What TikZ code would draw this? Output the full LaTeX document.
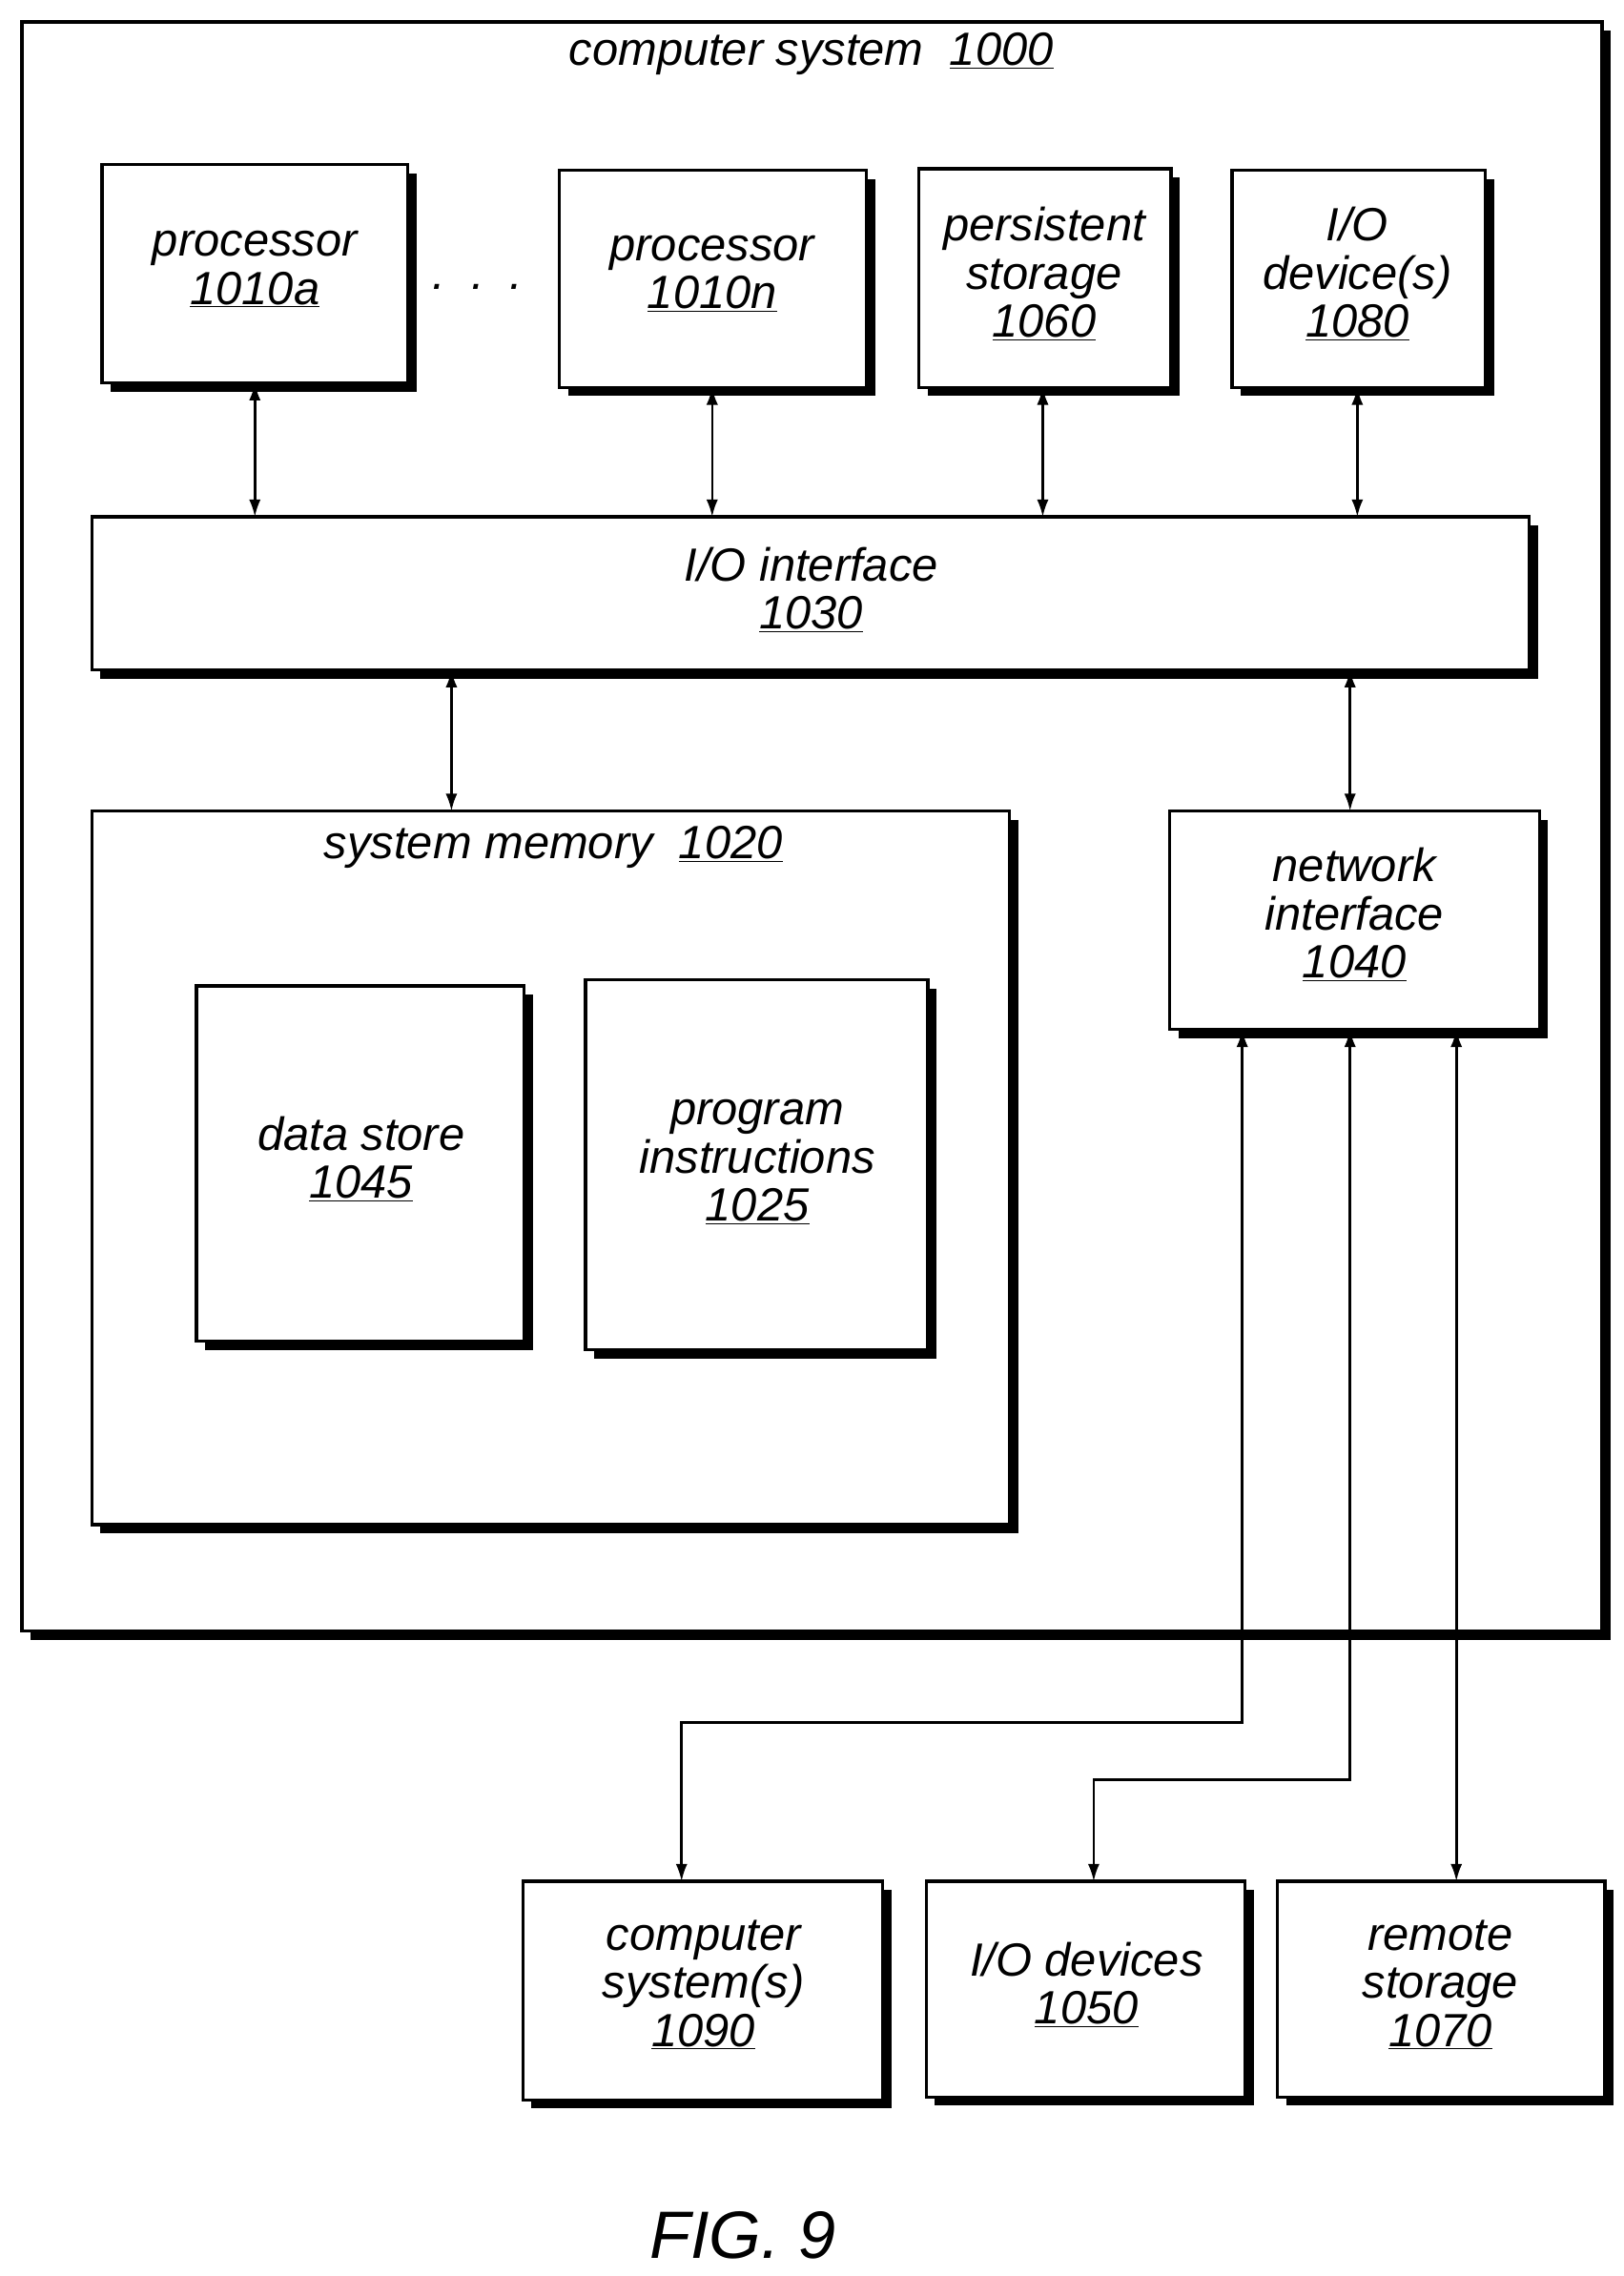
\documentclass[tikz,border=0pt]{standalone}
\usepackage{fontspec}
\setmainfont{Liberation Sans}
\usetikzlibrary{arrows.meta}
\begin{document}
\begin{tikzpicture}[x=1pt,y=-1pt,
  bx/.style={draw,line width=2.2pt,fill=white},
  sh/.style={fill=black},
  lbl/.style={align=center,font=\fontsize{32}{33}\selectfont\itshape},
  ar/.style={line width=1.7pt,{Latex[length=12pt,width=8pt]}-{Latex[length=12pt,width=8pt]}}]
\useasboundingbox (0,0) rectangle (1115,1563);
\newcommand{\bbox}[5]{%
  \fill[sh] (#2+6,#3+6) rectangle (#4+6,#5+6);
  \draw[bx] (#2,#3) rectangle (#4,#5);
  \coordinate (#1-nw) at (#2,#3);\coordinate (#1-se) at (#4,#5);}
\bbox{outer}{15}{15}{1100}{1120}
\node[lbl] (t1000) at (557,37) {computer system\ \ \underline{1000}};
\bbox{pa}{70}{113}{280}{263}
\node[lbl] (pat) at (175,185) {processor\\\underline{1010a}};
\node[lbl] (dots) at (328,197) {.\ \ .\ \ .};
\bbox{pn}{384}{117}{595}{266}
\node[lbl] (pnt) at (489,188) {processor\\\underline{1010n}};
\bbox{ps}{631}{116}{804}{266}
\node[lbl] (pst) at (717,188) {persistent\\storage\\\underline{1060}};
\bbox{io}{846}{117}{1020}{266}
\node[lbl] (iot) at (932,188) {I/O\\device(s)\\\underline{1080}};
\bbox{ioi}{63}{355}{1050}{460}
\node[lbl] (ioit) at (557,405) {I/O interface\\\underline{1030}};
\bbox{sm}{63}{557}{693}{1047}
\node[lbl] (smt) at (380,582) {system memory\ \ \underline{1020}};
\bbox{ds}{135}{677}{360}{921}
\node[lbl] (dst) at (248,796) {data store\\\underline{1045}};
\bbox{pi}{402}{673}{637}{927}
\node[lbl] (pit) at (520,798) {program\\instructions\\\underline{1025}};
\bbox{ni}{803}{557}{1057}{707}
\node[lbl] (nit) at (930,628) {network\\interface\\\underline{1040}};
\bbox{cs}{359}{1292}{606}{1442}
\node[lbl] (cst) at (483,1363) {computer\\system(s)\\\underline{1090}};
\bbox{iod}{636}{1292}{855}{1440}
\node[lbl] (iodt) at (746,1363) {I/O devices\\\underline{1050}};
\bbox{rs}{877}{1292}{1102}{1440}
\node[lbl] (rst) at (989,1363) {remote\\storage\\\underline{1070}};
\node[font=\fontsize{46}{50}\selectfont\itshape] (fig) at (510,1535) {FIG. 9};
\draw[ar] (175,263) -- (175,355);
\draw[ar] (489,266) -- (489,355);
\draw[ar] (716,266) -- (716,355);
\draw[ar] (932,266) -- (932,355);
\draw[ar] (310,460) -- (310,557);
\draw[ar] (927,460) -- (927,557);
\draw[ar] (853,707) -- (853,1183) -- (468,1183) -- (468,1292);
\draw[ar] (927,707) -- (927,1222) -- (751,1222) -- (751,1292);
\draw[ar] (1000,707) -- (1000,1292);
\end{tikzpicture}
\end{document}
